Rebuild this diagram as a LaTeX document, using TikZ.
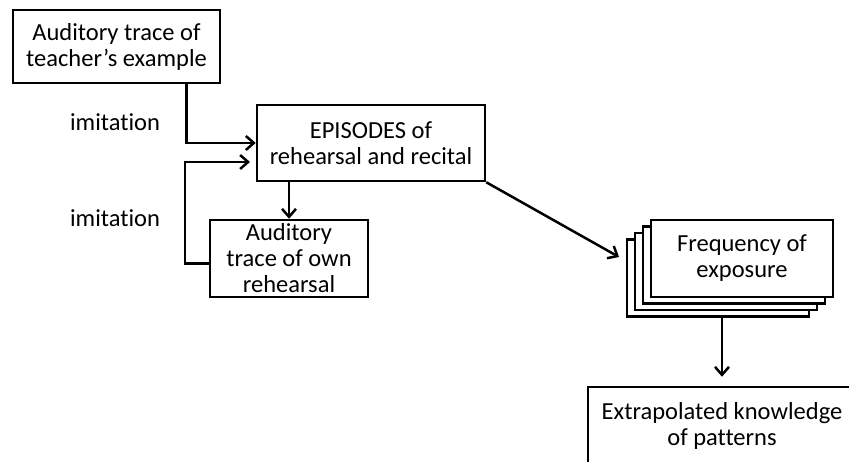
\documentclass[tikz,border=0pt]{standalone}
\usepackage{fontspec}
\setmainfont{Carlito}[Ligatures=NoCommon]
\usetikzlibrary{arrows.meta,positioning}

\begin{document}
\begin{tikzpicture}[x=1pt, y=-1pt, ->, >={Straight Barb[length=8pt,width=14pt]},
                line width=2.5pt,
                box/.style={draw, fill=white, align=center, inner sep=0pt,
                  font=\fontsize{24.5}{26}\selectfont},
                note/.style={font=\fontsize{24.5}{26}\selectfont}]
  \useasboundingbox (0,0) rectangle (849,462);
  \clip (0,0) rectangle (849,462);

  \node[box, minimum width=207pt, minimum height=73pt] (teacher) at (116.5,46.5)
    {Auditory trace of\\teacher's example};
  \node[box, minimum width=228pt, minimum height=76pt] (epis) at (371,143)
    {EPISODES of\\rehearsal and recital};
  \node[box, minimum width=158pt, minimum height=77pt] (own) at (289,258.5)
    {Auditory\\trace of own\\rehearsal};

  % stacked copies behind the frequency box
  \foreach \i in {3,2,1}
    \draw[-, fill=white] (651-8*\i, 220+6.5*\i) rectangle (833-8*\i, 297+6.5*\i);
  \node[box, minimum width=182pt, minimum height=77pt] (freq) at (742,258.5)
    {Frequency of\\exposure};
  \node[box, minimum width=268pt, minimum height=78pt] (extrap) at (722,426)
    {Extrapolated knowledge\\of patterns};

  \node[note] (imit1) at (115,122) {imitation};
  \node[note] (imit2) at (115,218) {imitation};

  \coordinate (back) at (250,162);
  \coordinate (hit) at (619,257);
  \coordinate (stack) at (718,317);

  \draw ([xshift=70pt]teacher.south) |- (epis.west);
  \draw ([yshift=-5pt]own.west) -- ++(-24,0) |- (back);
  \draw (epis.south -| own.north) -- (own.north);
  \draw (epis.south east) -- (hit);
  \draw (extrap.north |- stack) -- ([yshift=9pt]extrap.north);
\end{tikzpicture}
\end{document}
